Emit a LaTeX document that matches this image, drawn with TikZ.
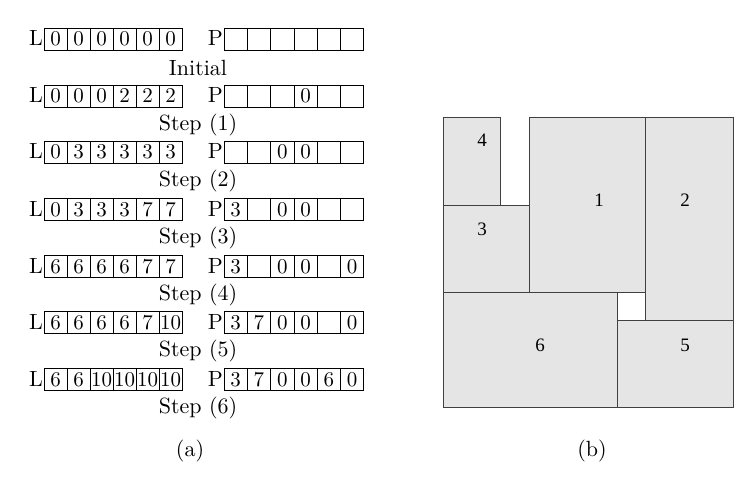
\documentclass[tikz,border=0pt]{standalone}
\usepackage{fontspec}
\setmainfont{lmroman10-regular.otf}
\newfontfamily\tms{Liberation Serif}
\newcommand\cellrow[9]{%
  \node[#1] (#2a) at (#3) {#4};
  \node[#1] (#2b) at (#2a.east) {#5};
  \node[#1] (#2c) at (#2b.east) {#6};
  \node[#1] (#2d) at (#2c.east) {#7};
  \node[#1] (#2e) at (#2d.east) {#8};
  \node[#1] (#2f) at (#2e.east) {#9};
}
\begin{document}
\begin{tikzpicture}[x=1pt,y=-1pt,
  cell/.style={draw=black, line width=0.8pt, minimum height=22pt, text height=14pt, text depth=0pt,
    inner sep=0pt, outer sep=0pt, anchor=west, font=\fontsize{21}{24}\selectfont},
  lcell/.style={cell, minimum width=23pt},
  pcell/.style={cell, minimum width=23.3pt},
  tag/.style={anchor=base east, inner sep=1pt, font=\fontsize{22}{26}\selectfont},
  caption/.style={font=\fontsize{22}{26}\selectfont},
  blk/.style={draw=black!75, fill=gray!20, line width=0.8pt, inner sep=0pt, outer sep=0pt},
  num/.style={font=\tms\fontsize{19}{22}\selectfont}]
\useasboundingbox (0,0) rectangle (751,478);
% ---------- panel (a) ----------
\cellrow{lcell}{L1}{44,39}{0}{0}{0}{0}{0}{0}
\cellrow{pcell}{P1}{224,39}{}{}{}{}{}{}
\cellrow{lcell}{L2}{44,96}{0}{0}{0}{2}{2}{2}
\cellrow{pcell}{P2}{224,96}{}{}{}{0}{}{}
\cellrow{lcell}{L3}{44,152}{0}{3}{3}{3}{3}{3}
\cellrow{pcell}{P3}{224,152}{}{}{0}{0}{}{}
\cellrow{lcell}{L4}{44,209}{0}{3}{3}{3}{7}{7}
\cellrow{pcell}{P4}{224,209}{3}{}{0}{0}{}{}
\cellrow{lcell}{L5}{44,266}{6}{6}{6}{6}{7}{7}
\cellrow{pcell}{P5}{224,266}{3}{}{0}{0}{}{0}
\cellrow{lcell}{L6}{44,322}{6}{6}{6}{6}{7}{10}
\cellrow{pcell}{P6}{224,322}{3}{7}{0}{0}{}{0}
\cellrow{lcell}{L7}{44,379}{6}{6}{10}{10}{10}{10}
\cellrow{pcell}{P7}{224,379}{3}{7}{0}{0}{6}{0}
\foreach \i in {1,...,7}{
  \node[tag] (tL\i) at (L\i a.base west) {L};
  \node[tag] (tP\i) at (P\i a.base west) {P};
}
\node[caption] (cap0) at (198,68) {Initial};
\node[caption] (cap1) at (198,125) {Step (1)};
\node[caption] (cap2) at (198,181) {Step (2)};
\node[caption] (cap3) at (198,238) {Step (3)};
\node[caption] (cap4) at (198,295) {Step (4)};
\node[caption] (cap5) at (198,351) {Step (5)};
\node[caption] (cap6) at (198,408) {Step (6)};
\node[caption] (suba) at (190,451) {(a)};
% ---------- panel (b) ----------
\node[blk, minimum width=57pt, minimum height=88pt] (r4) at (471.5,161) {};
\node[blk, minimum width=86pt, minimum height=87pt] (r3) at (486,248.5) {};
\node[blk, minimum width=116pt, minimum height=175pt] (r1) at (587,204.5) {};
\node[blk, minimum width=88pt, minimum height=203pt] (r2) at (689,218.5) {};
\node[blk, minimum width=174pt, minimum height=115pt] (r6) at (530,349.5) {};
\node[blk, minimum width=116pt, minimum height=87pt] (r5) at (675,363.5) {};
\node[num] (n4) at (482,140) {4};
\node[num] (n1) at (599,200) {1};
\node[num] (n2) at (685,200) {2};
\node[num] (n3) at (482,229) {3};
\node[num] (n6) at (540,345) {6};
\node[num] (n5) at (685,345) {5};
\node[caption] (subb) at (592,451) {(b)};
\end{tikzpicture}
\end{document}
